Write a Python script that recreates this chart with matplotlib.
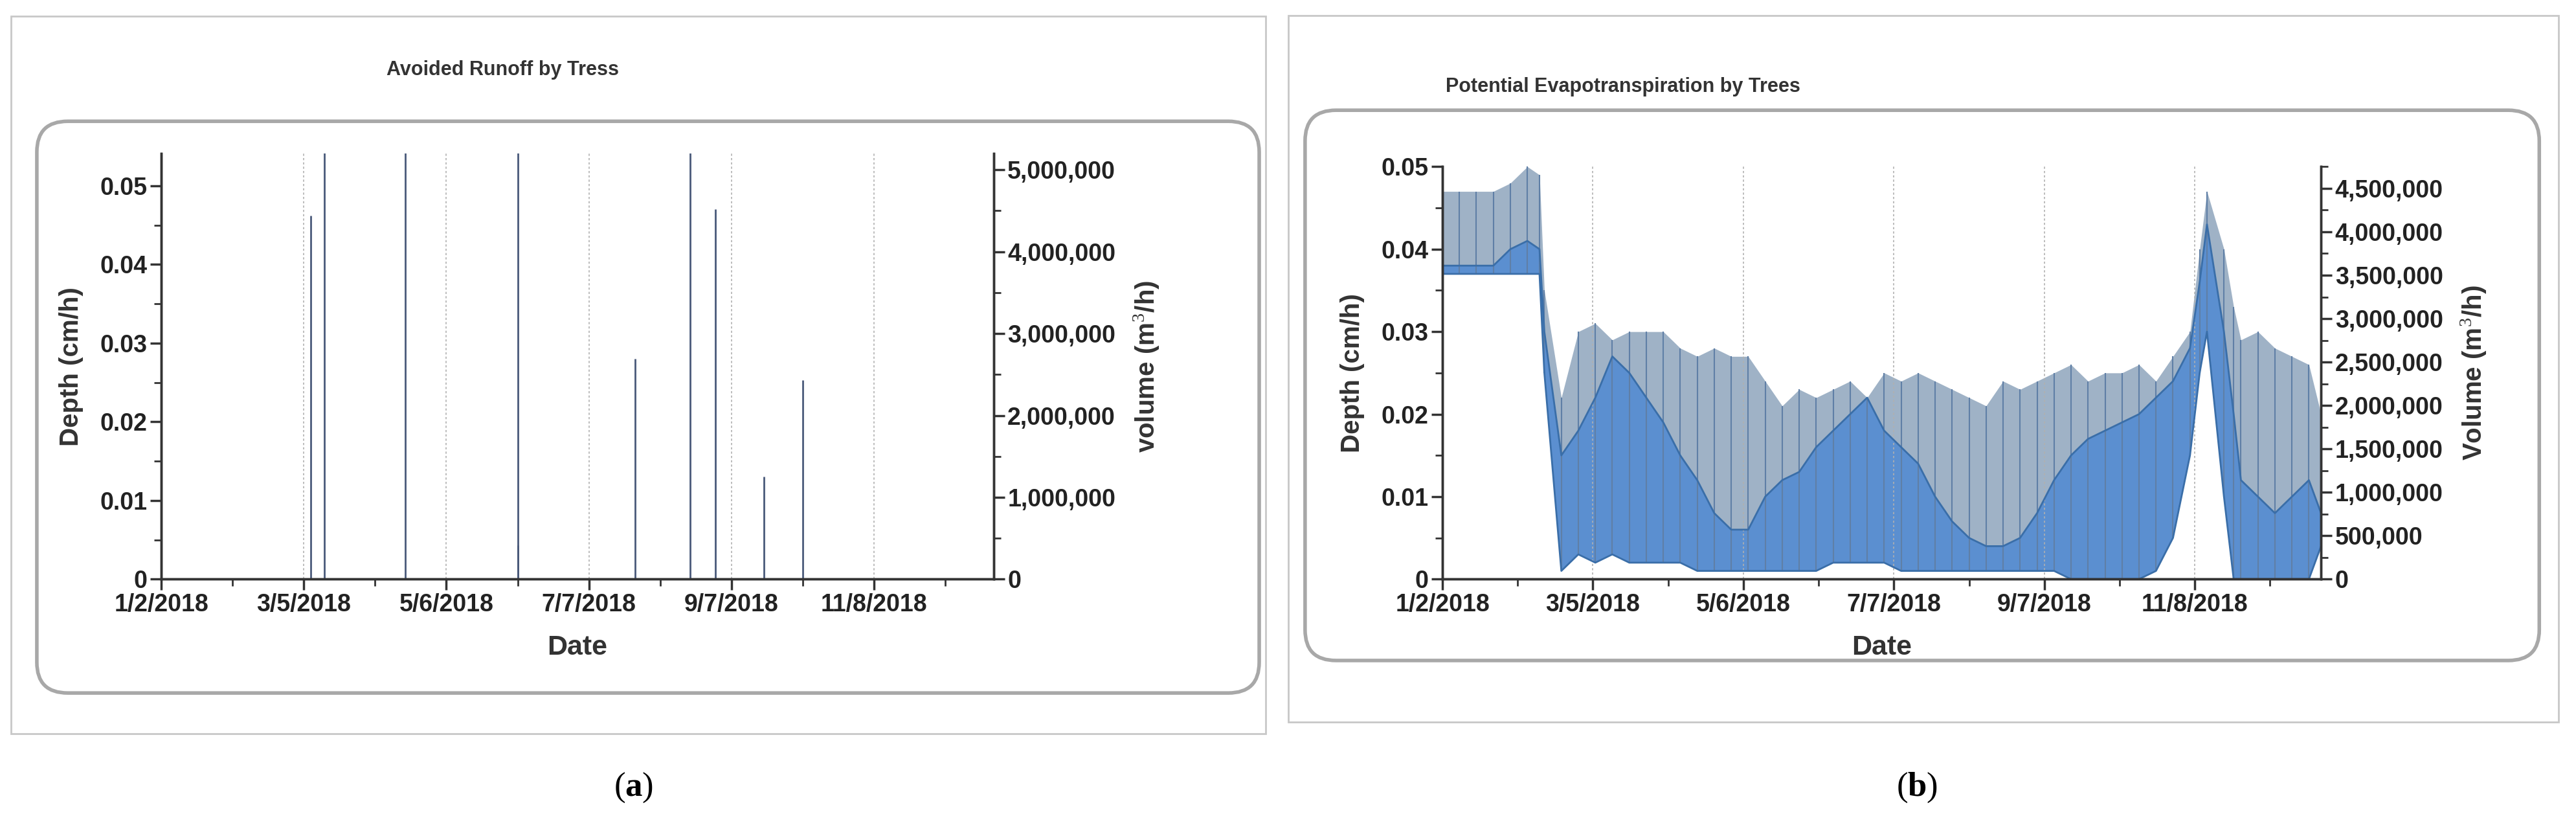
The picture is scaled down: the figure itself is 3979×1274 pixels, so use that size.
import datetime as dt
import matplotlib
matplotlib.use('Agg')
import matplotlib.pyplot as plt
import matplotlib.dates as mdates
from matplotlib.patches import FancyBboxPatch, Rectangle
from matplotlib.ticker import FixedLocator, MultipleLocator, FuncFormatter

plt.rcParams['font.family'] = ['Liberation Sans', 'DejaVu Sans']
plt.rcParams['mathtext.fontset'] = 'custom'
plt.rcParams['mathtext.rm'] = 'Liberation Serif'
plt.rcParams['mathtext.bf'] = 'Liberation Serif:bold'

START = dt.date(2018, 1, 2)
tick_days = [0, 62, 124, 186, 248, 310]
minor_days = [31, 93, 155, 217, 279, 341]

# (a) avoided runoff spikes: day offset, depth cm/h (0.06 = clipped at top)
runoff_days = [65, 71, 106, 155, 155, 206, 230, 241, 262, 279]
runoff_depth = [0.0462, 0.06, 0.06, 0.06, 0.0043, 0.028, 0.06, 0.047, 0.013, 0.0253]

# (b) potential evapotranspiration, weekly readings (cm/h)
pet_days = [0, 7, 14, 21, 28, 35, 40, 42, 49, 56, 63, 70, 77, 84, 91, 98, 105, 112,
            119, 126, 133, 140, 147, 154, 161, 168, 175, 182, 189, 196, 203, 210,
            217, 224, 231, 238, 245, 252, 259, 266, 273, 280, 287, 294, 301, 308,
            312, 315, 322, 326, 329, 336, 343, 350, 357, 362]
pet_peak = [.047, .047, .047, .047, .048, .050, .049, .035, .022, .030, .031, .029, .030,
            .030, .030, .028, .027, .028, .027, .027, .024, .021, .023, .022, .023, .024,
            .022, .025, .024, .025, .024, .023, .022, .021, .024, .023, .024, .025, .026,
            .024, .025, .025, .026, .024, .027, .030, .040, .047, .040, .033, .029, .030,
            .028, .027, .026, .020]
pet_top = [.038, .038, .038, .038, .040, .041, .040, .030, .015, .018, .022, .027, .025,
           .022, .019, .015, .012, .008, .006, .006, .010, .012, .013, .016, .018, .020,
           .022, .018, .016, .014, .010, .007, .005, .004, .004, .005, .008, .012, .015,
           .017, .018, .019, .020, .022, .024, .028, .036, .043, .030, .020, .012, .010,
           .008, .010, .012, .008]
pet_low = [.037, .037, .037, .037, .037, .037, .037, .025, .001, .003, .002, .003, .002,
           .002, .002, .002, .001, .001, .001, .001, .001, .001, .001, .001, .002, .002,
           .002, .002, .001, .001, .001, .001, .001, .001, .001, .001, .001, .001, .000,
           .000, .000, .000, .000, .001, .005, .015, .025, .030, .010, .000, .000, .000,
           .000, .000, .000, .004]


def dates(days):
    return [START + dt.timedelta(days=d) for d in days]


def date_fmt(x, pos):
    d = mdates.num2date(x)
    return '%d/%d/%d' % (d.month, d.day, d.year)


fig = plt.figure(figsize=(39.8, 12.74), dpi=100)

# frames
for x0, y0, w, h in [(.0043, .1107, .487, .870), (.5, .125, .493, .856)]:
    fig.patches.append(Rectangle((x0, y0), w, h, transform=fig.transFigure,
                                 fill=False, ec='#c8c8c8', lw=2))
for x0, y0, w, h in [(.0143, .160, .4744, .693), (.5065, .1994, .479, .667)]:
    fig.patches.append(FancyBboxPatch((x0, y0), w, h, transform=fig.transFigure,
                                      boxstyle='round,pad=0,rounding_size=0.012',
                                      mutation_aspect=3.1, fill=False,
                                      ec='#a8a8a8', lw=4))


def style(ax, ax2, ylab, y2lab, ymaj, ymin, y2maj, y2min, y2fmt):
    ax.set_xlim(mdates.date2num(START), mdates.date2num(START + dt.timedelta(days=362)))
    ax.xaxis.set_major_locator(FixedLocator(mdates.date2num(dates(tick_days))))
    ax.xaxis.set_minor_locator(FixedLocator(mdates.date2num(dates(minor_days))))
    ax.xaxis.set_major_formatter(FuncFormatter(date_fmt))
    ax.yaxis.set_major_locator(MultipleLocator(ymaj))
    ax.yaxis.set_minor_locator(MultipleLocator(ymin))
    ax.yaxis.set_major_formatter(FuncFormatter(lambda v, p: '0' if v == 0 else '%g' % v))
    ax2.yaxis.set_major_locator(MultipleLocator(y2maj))
    ax2.yaxis.set_minor_locator(MultipleLocator(y2min))
    ax2.yaxis.set_major_formatter(FuncFormatter(y2fmt))
    ax.grid(axis='x', which='major', ls=(0, (2, 2)), color='#b0b0b0', lw=1.2)
    for a in (ax, ax2):
        a.spines['top'].set_visible(False)
        for s in a.spines.values():
            s.set_color('#333333')
            s.set_linewidth(2.5)
        a.tick_params(which='major', length=12, width=2.5, direction='out',
                      labelsize=27, colors='#333333', labelcolor='#222222')
        a.tick_params(which='minor', length=8, width=2, direction='out', colors='#333333')
        for t in a.get_xticklabels() + a.get_yticklabels():
            t.set_fontweight('bold')
    ax.set_ylabel(ylab, fontsize=29, fontweight='bold', color='#333333', labelpad=18)
    ax2.set_ylabel(y2lab, fontsize=29, fontweight='bold', color='#333333', labelpad=18)
    ax.set_xlabel('Date', fontsize=31, fontweight='bold', color='#333333', labelpad=20)


# (a)
axa = fig.add_axes([.0626, .298, .323, .516])
axa2 = axa.twinx()
axa.vlines(dates(runoff_days), 0, runoff_depth, color='#4a5a7a', lw=2)
axa.axhline(0.00005, color='#6f8fc0', lw=2)
axa.set_ylim(0, 0.0541)
axa2.set_ylim(0, 5.2e6)
style(axa, axa2, 'Depth (cm/h)', 'volume (m$^3$/h)', 0.01, 0.005, 1e6, 5e5,
      lambda v, p: '{:,.0f}'.format(v))
fig.text(.195, .915, 'Avoided Runoff by Tress', ha='center', va='center',
         fontsize=22, color='#333333', fontweight='bold')

# (b)
axb = fig.add_axes([.5598, .298, .341, .500])
axb2 = axb.twinx()
xd = dates(pet_days)
axb.fill_between(xd, pet_low, pet_peak, color='#9fb2c6', lw=0)
axb.vlines(xd, pet_low, pet_peak, color='#5f7fa6', lw=1.5)
axb.fill_between(xd, pet_low, pet_top, color='#5b8fd0', lw=0)
axb.plot(xd, pet_top, color='#3a6ea8', lw=2)
axb.plot(xd, pet_low, color='#3a6ea8', lw=2)
axb.set_ylim(0, 0.05)
axb2.set_ylim(0, 4.75e6)
style(axb, axb2, 'Depth (cm/h)', 'Volume (m$^3$/h)', 0.01, 0.005, 5e5, 2.5e5,
      lambda v, p: '{:,.0f}'.format(v))
fig.text(.63, .895, 'Potential Evapotranspiration by Trees', ha='center', va='center',
         fontsize=22, color='#333333', fontweight='bold')

fig.text(.246, .045, r'($\mathbf{a}$)', ha='center', va='center', fontsize=38,
         family='Liberation Serif')
fig.text(.744, .045, r'($\mathbf{b}$)', ha='center', va='center', fontsize=38,
         family='Liberation Serif')

fig.savefig('out.png', dpi=100, facecolor='white')
